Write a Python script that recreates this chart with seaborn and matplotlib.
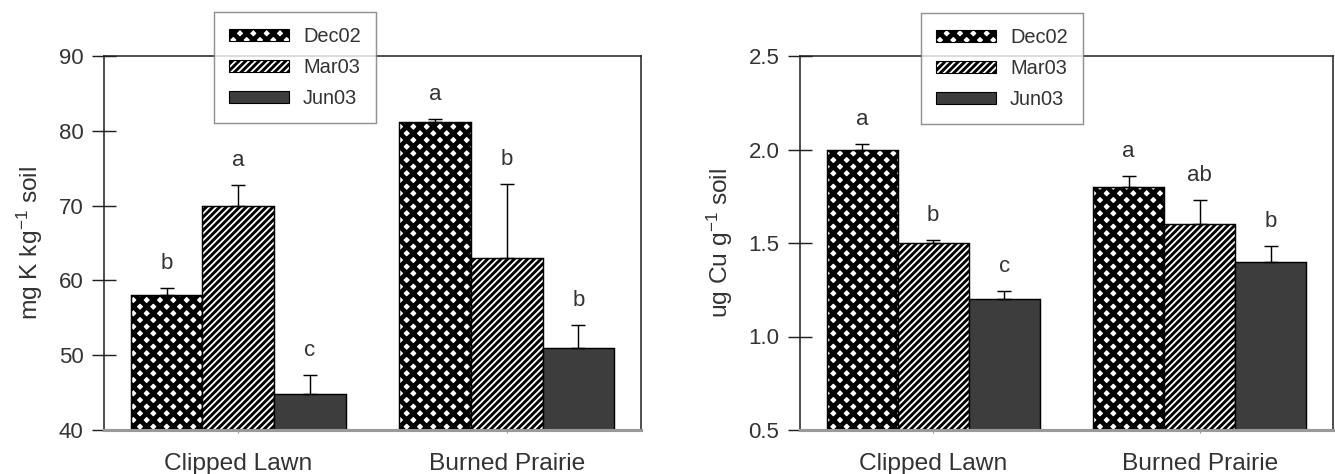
import numpy as np
import pandas as pd
import matplotlib
matplotlib.use("Agg")
import matplotlib.pyplot as plt
from matplotlib.patches import Patch
import seaborn as sns

# ---------------- data ----------------
sites = ["Clipped Lawn", "Burned Prairie"]
dates = ["Dec02", "Mar03", "Jun03"]

# rows follow `dates`, columns follow `sites`
k_values = [[58.0, 81.2], [70.0, 63.0], [44.8, 51.0]]
k_errors = [[1.0, 0.4], [2.8, 9.9], [2.5, 3.0]]
k_letters = [["b", "a"], ["a", "b"], ["c", "b"]]

cu_values = [[2.00, 1.80], [1.50, 1.60], [1.20, 1.40]]
cu_errors = [[0.03, 0.06], [0.015, 0.13], [0.045, 0.085]]
cu_letters = [["a", "a"], ["b", "ab"], ["c", "b"]]

k_ticks = [40, 50, 60, 70, 80, 90]
cu_ticks = [0.5, 1.0, 1.5, 2.0, 2.5]

# ---------------- style ----------------
sns.set_theme(style="white")
plt.rcParams["font.family"] = ["Liberation Sans", "DejaVu Sans"]
plt.rcParams["mathtext.fontset"] = "custom"
plt.rcParams["mathtext.rm"] = "Liberation Sans"
plt.rcParams["mathtext.it"] = "Liberation Sans:italic"
plt.rcParams["mathtext.bf"] = "Liberation Sans:bold"

TXT = "#333333"
fills = {"Dec02": "white", "Mar03": "white", "Jun03": "#3d3d3d"}
hatches = {"Dec02": "xx", "Mar03": "////", "Jun03": None}
hatch_lw = {"Dec02": 4.3, "Mar03": 2.6, "Jun03": 1.0}

DPI = 80
fig = plt.figure(figsize=(1335 / DPI, 474 / DPI), dpi=DPI)
ax1 = fig.add_axes([104 / 1335, 1 - 430 / 474, 537 / 1335, 374 / 474])
ax2 = fig.add_axes([800 / 1335, 1 - 430 / 474, 533 / 1335, 374 / 474])


def make_df(values):
    rows = []
    for di, d in enumerate(dates):
        for si, s in enumerate(sites):
            rows.append({"site": s, "date": d, "value": values[di][si]})
    return pd.DataFrame(rows)


def draw_panel(ax, values, errors, letters, ticks, ylabel, legend_xy):
    df = make_df(values)
    sns.barplot(data=df, x="site", y="value", hue="date", order=sites,
                hue_order=dates, palette=fills, edgecolor="black",
                linewidth=1.3, errorbar=None, width=0.8, ax=ax, legend=False)
    for di, (d, cont) in enumerate(zip(dates, ax.containers)):
        for si, bar in enumerate(cont):
            bar.set_facecolor(fills[d])
            bar.set_edgecolor("black")
            if hatches[d]:
                bar.set_hatch(hatches[d])
                if hasattr(bar, "set_hatch_linewidth"):
                    bar.set_hatch_linewidth(hatch_lw[d])
            xc = bar.get_x() + bar.get_width() / 2
            h = bar.get_height()
            e = errors[di][si]
            ax.errorbar(xc, h, yerr=[[0], [e]], fmt="none", ecolor="black",
                        elinewidth=1.3, capsize=6, capthick=1.3, zorder=3)
            ax.annotate(letters[di][si], (xc, h + e), xytext=(0, 22),
                        textcoords="offset points", ha="center", va="center",
                        fontsize=20, color=TXT)

    ax.set_xlim(-0.5, 1.5)
    ax.set_ylim(ticks[0], ticks[-1])
    ax.set_yticks(ticks)
    ax.set_yticklabels([f"{t:g}" if isinstance(t, int) else f"{t:.1f}" for t in ticks])
    ax.set_xlabel("")
    ax.set_ylabel(ylabel, fontsize=22, color=TXT, labelpad=12)
    ax.tick_params(axis="y", direction="inout", length=21, width=1.3,
                   color="#222222", labelsize=20, labelcolor=TXT, pad=8, left=True)
    ax.tick_params(axis="x", direction="inout", length=5, width=1.0,
                   color="#999999", labelsize=22, labelcolor=TXT, pad=18, bottom=True)
    for side in ["left", "top", "right"]:
        ax.spines[side].set_visible(True)
        ax.spines[side].set_color("#222222")
        ax.spines[side].set_linewidth(1.4)
    ax.spines["bottom"].set_color("#999999")
    ax.spines["bottom"].set_linewidth(2.8)
    ax.spines["bottom"].set_zorder(4)

    handles = []
    for d in dates:
        p = Patch(facecolor=fills[d], edgecolor="black", linewidth=1.0,
                  hatch=hatches[d], label=d)
        handles.append(p)
    leg = fig.legend(handles=handles, loc="upper left", bbox_to_anchor=legend_xy,
                     bbox_transform=fig.transFigure, borderaxespad=0,
                     fontsize=18, frameon=True, fancybox=False, shadow=False,
                     handlelength=3.0, handleheight=0.6, handletextpad=0.7,
                     labelspacing=0.6, borderpad=0.75)
    leg.get_frame().set_edgecolor("#777777")
    leg.get_frame().set_linewidth(1.3)
    leg.get_frame().set_facecolor("white")
    leg.set_zorder(10)
    for d, lh in zip(dates, leg.legend_handles):
        if hatches[d] and hasattr(lh, "set_hatch_linewidth"):
            lh.set_hatch_linewidth(hatch_lw[d])
    for t in leg.get_texts():
        t.set_color(TXT)


draw_panel(ax1, k_values, k_errors, k_letters, k_ticks,
           r"mg K kg$^{-1}$ soil", (214 / 1335, 1 - 12 / 474))
draw_panel(ax2, cu_values, cu_errors, cu_letters, cu_ticks,
           r"ug Cu g$^{-1}$ soil", (921 / 1335, 1 - 13 / 474))

fig.savefig("out.png", dpi=DPI)
